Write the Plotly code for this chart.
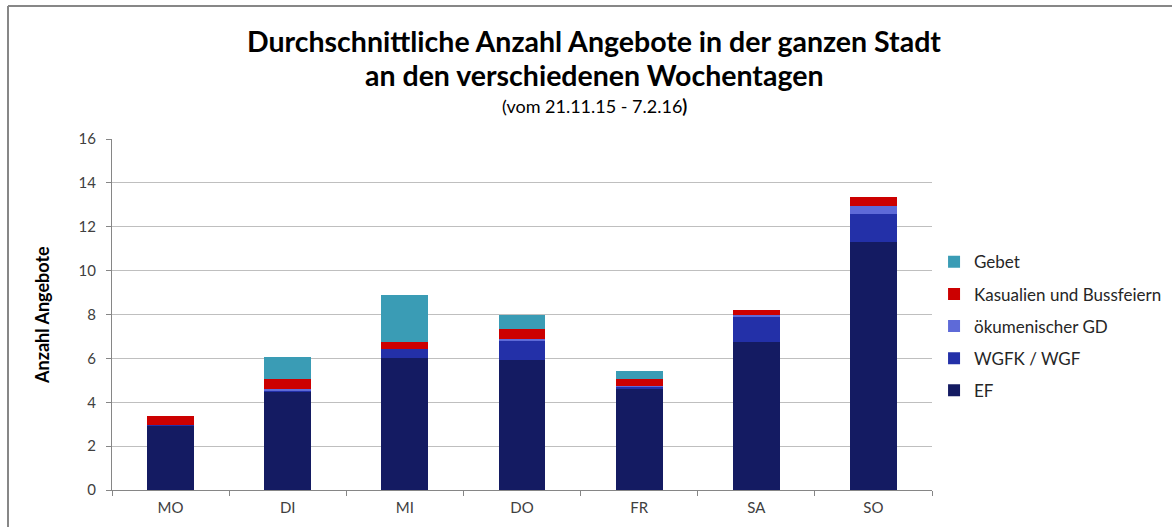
import plotly.graph_objects as go

# Weekdays and average number of offers per category
days = ["MO", "DI", "MI", "DO", "FR", "SA", "SO"]
ef = [2.95, 4.48, 6.00, 5.93, 4.62, 6.75, 11.31]
wgfk = [0.03, 0.05, 0.43, 0.88, 0.09, 1.18, 1.29]
oekumenisch = [0.00, 0.06, 0.00, 0.07, 0.05, 0.05, 0.33]
kasualien = [0.38, 0.47, 0.32, 0.48, 0.30, 0.21, 0.43]
gebet = [0.00, 1.00, 2.14, 0.63, 0.35, 0.00, 0.00]

series = [
    ("EF", ef, "#141B62"),
    ("WGFK / WGF", wgfk, "#2330A8"),
    ("ökumenischer GD", oekumenisch, "#5E6AD8"),
    ("Kasualien und Bussfeiern", kasualien, "#CC0000"),
    ("Gebet", gebet, "#3A9CB5"),
]
y_ticks = [0, 2, 4, 6, 8, 10, 12, 14, 16]

FONT = "Lato, 'Open Sans', sans-serif"

fig = go.Figure()
for i, (name, vals, color) in enumerate(series):
    fig.add_trace(go.Bar(
        x=days, y=vals, name=name, legendgroup=f"g{i}",
        legendrank=100 - i,  # top of the stack listed first
        marker=dict(color=color, line=dict(width=0)),
    ))

fig.update_layout(
    barmode="stack",
    bargap=0.6,
    width=1172, height=527,
    margin=dict(l=112, r=240, t=139, b=37, autoexpand=False),
    paper_bgcolor="white",
    plot_bgcolor="white",
    font=dict(family=FONT, size=15, color="#404040"),
    showlegend=True,
    legend=dict(
        x=1.0025, xanchor="left", y=0.70, yanchor="top",
        traceorder="grouped", tracegroupgap=7,
        font=dict(family=FONT, size=17, color="#262626"),
        itemwidth=30, bgcolor="rgba(0,0,0,0)",
    ),
    xaxis=dict(
        showline=True, linecolor="#868686", linewidth=1,
        ticks="outside", tickson="boundaries", ticklen=5, tickcolor="#868686",
        ticklabelstandoff=4,
        tickfont=dict(family=FONT, size=15, color="#404040"),
        showgrid=False,
    ),
    yaxis=dict(
        range=[0, 16], tickvals=y_ticks,
        showline=True, linecolor="#868686", linewidth=1,
        ticks="outside", ticklen=5, tickcolor="#868686",
        ticklabelstandoff=7,
        showgrid=True, gridcolor="#BFBFBF", gridwidth=1,
        zeroline=False,
        tickfont=dict(family=FONT, size=15, color="#404040"),
    ),
    annotations=[
        dict(text="<b>Durchschnittliche Anzahl Angebote in der ganzen Stadt</b>",
             xref="paper", yref="paper", x=(594 - 112) / 820, y=(490 - 41) / 351,
             xanchor="center", yanchor="middle", showarrow=False,
             font=dict(family=FONT, size=28.5, color="black")),
        dict(text="<b>an den verschiedenen Wochentagen</b>",
             xref="paper", yref="paper", x=(594 - 112) / 820, y=(490 - 75) / 351,
             xanchor="center", yanchor="middle", showarrow=False,
             font=dict(family=FONT, size=28.5, color="black")),
        dict(text="(vom 21.11.15 - 7.2.16<b>)</b>",
             xref="paper", yref="paper", x=(594 - 112) / 820, y=(490 - 106) / 351,
             xanchor="center", yanchor="middle", showarrow=False,
             font=dict(family=FONT, size=18, color="black")),
        dict(text="<b>Anzahl Angebote</b>",
             xref="paper", yref="paper", x=(42 - 112) / 820, y=(490 - 315) / 351,
             xanchor="center", yanchor="middle", showarrow=False, textangle=-90,
             font=dict(family=FONT, size=18, color="black")),
    ],
    shapes=[
        dict(type="line", xref="paper", yref="paper",
             x0=(8 - 112) / 820, x1=(1180 - 112) / 820,
             y0=(490 - 6) / 351, y1=(490 - 6) / 351,
             line=dict(color="#878787", width=2)),
        dict(type="line", xref="paper", yref="paper",
             x0=(8 - 112) / 820, x1=(8 - 112) / 820,
             y0=(490 - 6) / 351, y1=(490 - 540) / 351,
             line=dict(color="#878787", width=2)),
    ],
)

fig.write_html("out.html")
